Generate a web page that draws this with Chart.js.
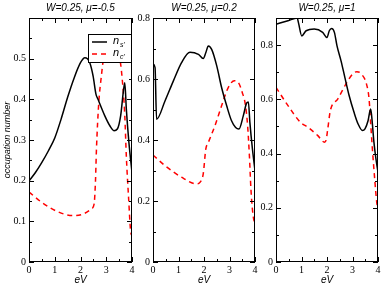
<!DOCTYPE html>
<html>
<head>
<meta charset="utf-8">
<script src="https://cdn.jsdelivr.net/npm/chart.js@4"></script>
<style>
  body { margin: 0; background: #fff; }
  #wrap { position: relative; width: 382px; height: 285px; overflow: hidden; }
  canvas { position: absolute; top: 0; }
</style>
</head>
<body>
<div id="wrap">
  <canvas id="c1" style="left:0px"></canvas>
  <canvas id="c2" style="left:131px"></canvas>
  <canvas id="c3" style="left:254px"></canvas>
</div>
<script>
// panel 1: W=0.25, mu=-0.5
const p1NsX = [0, 0.25, 0.5, 0.75, 1.0, 1.25, 1.5, 1.75, 2.0, 2.17, 2.36, 2.49, 2.6, 2.68, 2.94, 3.14, 3.3, 3.43, 3.56, 3.66, 3.72, 3.78, 3.88, 4.0];
const p1Ns  = [0.199, 0.22, 0.245, 0.273, 0.305, 0.352, 0.405, 0.452, 0.49, 0.502, 0.49, 0.457, 0.413, 0.40, 0.36, 0.335, 0.323, 0.327, 0.36, 0.417, 0.441, 0.376, 0.294, 0.22];
const p1NcX = [0, 0.49, 1.14, 1.72, 2.1, 2.43, 2.53, 2.58, 2.62, 2.71, 2.81, 2.9, 3.2, 3.52, 3.61, 3.72, 3.78, 3.87, 3.95, 4.0];
const p1Nc  = [0.172, 0.147, 0.123, 0.114, 0.118, 0.131, 0.143, 0.196, 0.278, 0.392, 0.457, 0.502, 0.535, 0.502, 0.457, 0.36, 0.26, 0.155, 0.074, 0.065];

// panel 2: W=0.25, mu=0.2
const p2NsX = [0, 0.08, 0.14, 0.47, 0.8, 1.12, 1.45, 1.78, 1.97, 2.07, 2.17, 2.3, 2.5, 2.69, 2.89, 3.08, 3.24, 3.37, 3.54, 3.67, 3.74, 3.8, 3.9, 4.0];
const p2Ns  = [0.65, 0.637, 0.468, 0.528, 0.594, 0.654, 0.688, 0.681, 0.667, 0.686, 0.708, 0.697, 0.643, 0.572, 0.512, 0.463, 0.441, 0.436, 0.479, 0.521, 0.525, 0.457, 0.37, 0.30];
const p2NcX = [0, 0.47, 1.12, 1.71, 1.84, 1.97, 2.07, 2.17, 2.43, 2.69, 2.95, 3.19, 3.35, 3.5, 3.63, 3.71, 3.78, 3.84, 3.91, 4.0];
const p2Nc  = [0.351, 0.316, 0.278, 0.256, 0.261, 0.289, 0.37, 0.392, 0.447, 0.512, 0.572, 0.594, 0.588, 0.556, 0.512, 0.447, 0.349, 0.24, 0.163, 0.12];

// panel 3: W=0.25, mu=1
const p3NsX = [0, 0.47, 0.83, 0.88, 1.01, 1.18, 1.5, 1.83, 2.0, 2.09, 2.18, 2.29, 2.39, 2.55, 2.7, 2.87, 3.06, 3.22, 3.39, 3.49, 3.61, 3.71, 3.75, 3.84, 3.92, 4.0];
const p3Ns  = [0.877, 0.89, 0.9, 0.883, 0.834, 0.853, 0.859, 0.847, 0.828, 0.853, 0.861, 0.847, 0.798, 0.742, 0.681, 0.613, 0.552, 0.509, 0.485, 0.491, 0.521, 0.564, 0.54, 0.442, 0.38, 0.331];
const p3NcX = [0, 0.47, 0.96, 1.25, 1.64, 1.9, 1.96, 2.03, 2.13, 2.42, 2.74, 3.0, 3.17, 3.35, 3.55, 3.65, 3.71, 3.78, 3.87, 3.95, 4.0];
const p3Nc  = [0.644, 0.577, 0.515, 0.497, 0.466, 0.442, 0.448, 0.491, 0.558, 0.601, 0.656, 0.693, 0.702, 0.693, 0.656, 0.601, 0.515, 0.417, 0.307, 0.221, 0.196];

const xTicks = [0, 1, 2, 3, 4];
const p1YTicks = [0, 0.1, 0.2, 0.3, 0.4, 0.5];
const p2YTicks = [0, 0.2, 0.4, 0.6, 0.8];
const p3YTicks = [0, 0.2, 0.4, 0.6, 0.8];

const titles = ['W=0.25, \u03bc=-0.5', 'W=0.25, \u03bc=0.2', 'W=0.25, \u03bc=1'];

Chart.defaults.font.family = '"Liberation Serif", serif';
Chart.defaults.font.size = 10;
Chart.defaults.color = '#000';

function toPoints(xs, ys) {
    return xs.map((x, i) => ({ x: x, y: ys[i] }));
}

// frame, inward ticks (major + minor), panel title and legend box
const framePlugin = {
    id: 'frame',
    afterDraw(chart, args, opts) {
        const ctx = chart.ctx, a = chart.chartArea;
        const xs = chart.scales.x, ys = chart.scales.y;
        ctx.save();
        ctx.strokeStyle = '#000';
        ctx.lineWidth = 1;
        ctx.strokeRect(a.left + 0.5, a.top + 0.5, a.right - a.left - 1, a.bottom - a.top - 1);
        ctx.beginPath();
        for (let v = xs.min; v <= xs.max + 1e-9; v += opts.xMinor) {
            const px = Math.round(xs.getPixelForValue(v)) + 0.5;
            const major = Math.abs(v - Math.round(v)) < 1e-6;
            const len = major ? 5 : 3;
            ctx.moveTo(px, a.bottom); ctx.lineTo(px, a.bottom - len);
            ctx.moveTo(px, a.top); ctx.lineTo(px, a.top + len);
        }
        for (let v = 0; v <= ys.max + 1e-9; v += opts.yMinor) {
            const py = Math.round(ys.getPixelForValue(v)) + 0.5;
            const k = v / opts.yMajor;
            const major = Math.abs(k - Math.round(k)) < 1e-6;
            const len = major ? 5 : 3;
            ctx.moveTo(a.left, py); ctx.lineTo(a.left + len, py);
            ctx.moveTo(a.right, py); ctx.lineTo(a.right - len, py);
        }
        ctx.stroke();
        // title
        ctx.fillStyle = '#000';
        ctx.font = 'italic 10px "Liberation Sans", sans-serif';
        ctx.textAlign = 'center';
        ctx.textBaseline = 'middle';
        ctx.fillText(opts.title, (a.left + a.right) / 2, 8);
        // legend (first panel)
        if (opts.legend) {
            const bx = a.right - 44, by = 34, bw = 44, bh = 29;
            ctx.fillStyle = '#fff';
            ctx.fillRect(bx, by, bw, bh);
            ctx.strokeRect(bx + 0.5, by + 0.5, bw - 1, bh - 1);
            ctx.lineWidth = 1.5;
            ctx.beginPath();
            ctx.moveTo(bx + 4, by + 8); ctx.lineTo(bx + 19, by + 8);
            ctx.stroke();
            ctx.strokeStyle = '#ff0000';
            ctx.setLineDash([5, 4]);
            ctx.beginPath();
            ctx.moveTo(bx + 4, by + 20); ctx.lineTo(bx + 21, by + 20);
            ctx.stroke();
            ctx.setLineDash([]);
            ctx.fillStyle = '#000';
            ctx.textAlign = 'left';
            ctx.font = 'italic 11px "Liberation Sans", sans-serif';
            ctx.fillText('n', bx + 25, by + 7);
            ctx.fillText('n', bx + 25, by + 19);
            ctx.font = 'italic 7px "Liberation Sans", sans-serif';
            ctx.fillText("s'", bx + 32, by + 11);
            ctx.fillText("c'", bx + 32, by + 23);
        }
        ctx.restore();
    }
};

function makePanel(id, w, ns, nc, yMax, yTicks, yMajor, yMinor, yWidth, padRight, idx) {
    const canvas = document.getElementById(id);
    canvas.width = w;
    canvas.height = 285;
    canvas.style.width = w + 'px';
    canvas.style.height = '285px';
    return new Chart(canvas.getContext('2d'), {
        type: 'line',
        data: {
            datasets: [
                {
                    data: ns,
                    borderColor: '#000',
                    borderWidth: 1.5,
                    pointRadius: 0,
                    cubicInterpolationMode: 'monotone'
                },
                {
                    data: nc,
                    borderColor: '#ff0000',
                    borderWidth: 1.5,
                    borderDash: [5, 4],
                    pointRadius: 0,
                    cubicInterpolationMode: 'monotone'
                }
            ]
        },
        options: {
            responsive: false,
            animation: false,
            layout: { padding: { top: 18, right: padRight, left: 0, bottom: 0 } },
            scales: {
                x: {
                    type: 'linear',
                    min: 0,
                    max: 4,
                    grid: { display: false, drawTicks: false },
                    border: { display: false },
                    afterBuildTicks: s => { s.ticks = xTicks.map(v => ({ value: v })); },
                    afterFit: s => { s.height = 23; s.paddingLeft = 0; s.paddingRight = 0; },
                    ticks: { padding: 3, maxRotation: 0, font: { size: 10, lineHeight: 1 } },
                    title: {
                        display: true,
                        text: 'eV',
                        padding: 0,
                        font: { family: '"Liberation Sans", sans-serif', style: 'italic', size: 10, lineHeight: 1 }
                    }
                },
                y: {
                    min: 0,
                    max: yMax,
                    grid: { display: false, drawTicks: false },
                    border: { display: false },
                    afterBuildTicks: s => { s.ticks = yTicks.map(v => ({ value: v })); },
                    afterFit: s => { s.width = yWidth; s.paddingTop = 0; s.paddingBottom = 0; },
                    ticks: { padding: 3, font: { size: 10 }, callback: v => String(+v.toFixed(2)) },
                    title: {
                        display: idx === 0,
                        text: 'occupation number',
                        padding: { top: 3, bottom: 0 },
                        font: { family: '"Liberation Sans", sans-serif', style: 'italic', size: 9, lineHeight: 1 }
                    }
                }
            },
            plugins: {
                legend: { display: false },
                tooltip: { enabled: false },
                frame: { title: titles[idx], legend: idx === 0, xMinor: 0.5, yMajor: yMajor, yMinor: yMinor }
            }
        },
        plugins: [framePlugin]
    });
}

makePanel('c1', 136, toPoints(p1NsX, p1Ns), toPoints(p1NcX, p1Nc), 0.6, p1YTicks, 0.1, 0.05, 29, 4, 0);
makePanel('c2', 128, toPoints(p2NsX, p2Ns), toPoints(p2NcX, p2Nc), 0.8, p2YTicks, 0.2, 0.1, 22, 4, 1);
makePanel('c3', 128, toPoints(p3NsX, p3Ns), toPoints(p3NcX, p3Nc), 0.9, p3YTicks, 0.2, 0.1, 22, 4, 2);
</script>
</body>
</html>
